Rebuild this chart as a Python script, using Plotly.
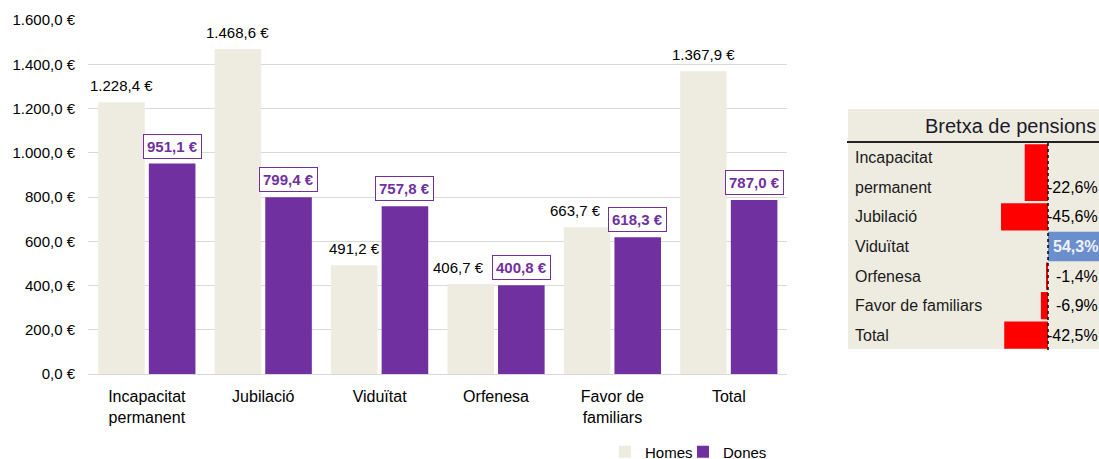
import plotly.graph_objects as go

# ---------------- data ----------------
categories = ["Incapacitat<br>permanent", "Jubilació", "Viduïtat", "Orfenesa",
              "Favor de<br>familiars", "Total"]
homes = [1228.4, 1468.6, 491.2, 406.7, 663.7, 1367.9]
dones = [951.1, 799.4, 757.8, 400.8, 618.3, 787.0]

gap_labels = ["Incapacitat<br>permanent", "Jubilació", "Viduïtat", "Orfenesa",
              "Favor de familiars", "Total"]
gap_values = [-22.6, -45.6, 54.3, -1.4, -6.9, -42.5]

y_ticks = [0, 200, 400, 600, 800, 1000, 1200, 1400, 1600]

# ---------------- layout helpers (page pixels -> paper) ----------------
WF, HF = 1099, 520     # figure size (page is clipped to the 1099x459 window)
def fx(px):
    return px / WF
def fy(py):
    return 1 - py / HF

HOMES_C = "#EEECE1"
DONES_C = "#7030A0"
FONT = "Liberation Sans, Arial, sans-serif"

def eur(v):
    s = f"{v:,.1f}".replace(",", "X").replace(".", ",").replace("X", ".")
    return s + " €"

def pct(v):
    return f"{v:.1f}".replace(".", ",") + "%"

BARGAP = 0.13
GROUPGAP = 0.08
plot_l, plot_r = 88, 787
group_w = (plot_r - plot_l) / len(categories)
slot = group_w * (1 - BARGAP) / 2
off = slot / 2

fig = go.Figure()
fig.add_trace(go.Bar(name="Homes", x=categories, y=homes, marker_color=HOMES_C,
                     marker_line_width=0, xaxis="x", yaxis="y", legend="legend"))
fig.add_trace(go.Bar(name="Dones", x=categories, y=dones, marker_color=DONES_C,
                     marker_line_width=0, xaxis="x", yaxis="y", legend="legend2"))

annotations = []
for c, h, d in zip(categories, homes, dones):
    # nudge the men's label left when it would collide with the boxed women's label
    nudge = -12 if abs(h - d) < 100 else 0
    annotations.append(dict(x=c, y=h, xref="x", yref="y", xshift=-off + nudge, yshift=6,
                            yanchor="bottom", showarrow=False, text=eur(h),
                            font=dict(family=FONT, size=15, color="#000000")))
    annotations.append(dict(x=c, y=d, xref="x", yref="y", xshift=off, yshift=5,
                            yanchor="bottom", showarrow=False, text="<b>" + eur(d) + "</b>",
                            font=dict(family=FONT, size=15, color=DONES_C),
                            bgcolor="#FFFFFF", bordercolor=DONES_C, borderwidth=1,
                            borderpad=3))

# ---------------- right panel: Bretxa de pensions ----------------
lines = [lab.count("<br>") + 1 for lab in gap_labels]
ends = []
acc = 0
for n in lines:
    acc += n
    ends.append(acc)
centers = [e - n / 2 for e, n in zip(ends, lines)]
widths = [n - 0.08 if v < 0 else n for n, v in zip(lines, gap_values)]
total_lines = ends[-1]

fig.add_trace(go.Bar(x=gap_values, y=centers, width=widths, orientation="h",
                     marker_color=["#FF0000" if v < 0 else "#6B8FCC" for v in gap_values],
                     marker_line_width=0, showlegend=False, xaxis="x2", yaxis="y2",
                     hoverinfo="skip"))

for lab, n, e, v in zip(gap_labels, lines, ends, gap_values):
    for k, part in enumerate(lab.split("<br>")):
        annotations.append(dict(x=fx(853), y=e - n + k + 0.5, xref="paper", yref="y2",
                                xanchor="left", showarrow=False, text=part,
                                font=dict(family=FONT, size=16, color="#1a1a1a")))
    txt = pct(v)
    if v > 0:
        txt = "<b>" + txt + "</b>"
    annotations.append(dict(x=fx(1100), y=e - 0.5, xref="paper", yref="y2",
                            xanchor="right", showarrow=False, text=txt,
                            font=dict(family=FONT, size=16,
                                      color="#EEF2FA" if v > 0 else "#000000")))

annotations.append(dict(x=fx(923), y=fy(126), xref="paper", yref="paper",
                        xanchor="left", yanchor="middle", showarrow=False,
                        text="Bretxa de pensions",
                        font=dict(family=FONT, size=20, color="#1a1a2a")))

# panel x scale: ~1.03 px per percentage point, zero at page x 1048
PX_PER_PCT = 1.03
panel_l, panel_zero = 848, 1048
panel_r = WF
x2_range = [-(panel_zero - panel_l) / PX_PER_PCT, (panel_r - panel_zero) / PX_PER_PCT]

shapes = [
    dict(type="rect", xref="paper", yref="paper", x0=fx(panel_l), x1=1, y0=fy(349), y1=fy(109),
         fillcolor=HOMES_C, line_width=0, layer="below"),
    dict(type="line", xref="paper", yref="paper", x0=fx(847), x1=1, y0=fy(142), y1=fy(142),
         line=dict(color="#222222", width=2)),
    dict(type="line", xref="x2", yref="paper", x0=0, x1=0, y0=fy(350), y1=fy(143),
         line=dict(color="#000000", width=1.5, dash="dot")),
]

legend_common = dict(orientation="h", xanchor="left", yanchor="middle", y=fy(452),
                     font=dict(size=15), bgcolor="rgba(0,0,0,0)")

fig.update_layout(
    width=WF, height=HF,
    margin=dict(l=0, r=0, t=0, b=0),
    paper_bgcolor="#FFFFFF", plot_bgcolor="rgba(0,0,0,0)",
    separators=",.",
    barmode="group", bargap=BARGAP, bargroupgap=GROUPGAP,
    font=dict(family=FONT, size=14, color="#000000"),
    xaxis=dict(domain=[fx(plot_l), fx(plot_r)], anchor="y", showgrid=False,
               showline=True, linecolor="#d9d9d9", linewidth=1, automargin=False,
               tickfont=dict(size=16, color="#000000"), ticks="", ticklabelstandoff=8),
    yaxis=dict(domain=[fy(374), fy(20)], range=[0, 1600], tickvals=y_ticks,
               ticktext=[eur(v) for v in y_ticks], showgrid=True, gridcolor="#d9d9d9",
               gridwidth=1, zeroline=False, ticks="", ticklabelstandoff=12,
               automargin=False, tickfont=dict(size=15, color="#000000")),
    xaxis2=dict(domain=[fx(panel_l), 1], anchor="y2", range=x2_range, visible=False,
                automargin=False),
    yaxis2=dict(domain=[fy(350), fy(143)], anchor="x2", range=[total_lines, 0],
                visible=False, automargin=False),
    legend=dict(x=fx(605), **legend_common),
    legend2=dict(x=fx(683), **legend_common),
    annotations=annotations,
    shapes=shapes,
)

page_js = ("document.documentElement.style.overflow='hidden';"
           "document.body.style.overflow='hidden';"
           "document.body.style.margin='0';document.body.style.padding='0';")
fig.write_html("out.html", post_script=page_js, config={"displayModeBar": False})
